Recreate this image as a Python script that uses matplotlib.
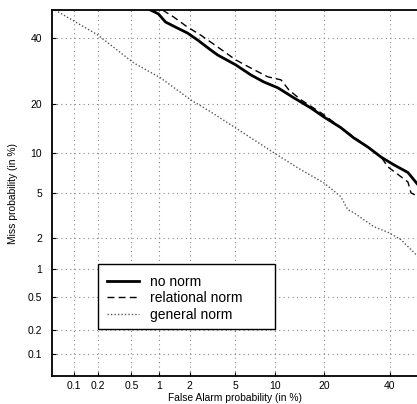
import numpy as np
import matplotlib
matplotlib.use("Agg")
import matplotlib.pyplot as plt
from matplotlib.patches import Rectangle
from statistics import NormalDist

# DET curves, values in percent (false alarm, miss)
no_norm_fa = [0.81, 0.98, 1.16, 1.46, 1.91, 2.37, 3.11, 3.58, 5.06, 6.63, 8.27, 10.4,
              13.2, 16.8, 19.9, 24.4, 28.2, 32.6, 37.0, 41.4, 46.4, 50.0]
no_norm_miss = [50.0, 48.6, 45.7, 43.9, 41.8, 39.4, 36.0, 34.3, 31.1, 28.0, 25.9, 24.2,
                21.5, 18.9, 16.8, 14.5, 12.5, 10.9, 9.3, 8.2, 7.2, 5.8]

rel_norm_fa = [1.08, 1.40, 1.91, 2.53, 3.58, 5.06, 6.63, 8.84, 10.9, 12.3, 14.6, 19.9,
               24.4, 32.6, 37.0, 39.4, 43.9, 46.4, 47.5, 50.0]
rel_norm_miss = [50.0, 47.5, 43.9, 41.1, 37.0, 32.7, 30.1, 27.4, 26.5, 23.6, 21.0, 17.3,
                 14.5, 10.9, 9.3, 7.9, 6.7, 6.1, 5.0, 4.7]

gen_norm_fa = [0.055, 0.20, 0.53, 1.03, 2.04, 3.11, 4.88, 9.7, 14.6, 19.9, 24.4, 26.4,
               28.2, 34.6, 39.7, 43.9, 50.0]
gen_norm_miss = [50.0, 41.1, 31.7, 27.1, 21.0, 18.0, 14.7, 10.0, 7.55, 6.0, 4.66, 3.63,
                 3.42, 2.57, 2.26, 1.95, 1.33]

tick_vals = [0.1, 0.2, 0.5, 1, 2, 5, 10, 20, 40]
tick_labels = ["0.1", "0.2", "0.5", "1", "2", "5", "10", "20", "40"]

# normal deviate (probit) scale for DET plots
_nd = NormalDist()
_ppf = np.vectorize(lambda v: _nd.inv_cdf(v / 100.0), otypes=[float])
_cdf = np.vectorize(lambda v: _nd.cdf(v) * 100.0, otypes=[float])


def _fwd(p):
    p = np.clip(np.asarray(p, dtype=float), 1e-7, 100 - 1e-7)
    return _ppf(p)


def _inv(z):
    return _cdf(np.asarray(z, dtype=float))


plt.rcParams['font.family'] = ['Liberation Sans', 'DejaVu Sans']

W, H = 417, 404
fig = plt.figure(figsize=(W / 100, H / 100), dpi=100)
ax = fig.add_axes([52 / W, 28 / H, 366 / W, 366 / H])

ax.set_xscale('function', functions=(_fwd, _inv))
ax.set_yscale('function', functions=(_fwd, _inv))

ax.plot(no_norm_fa, no_norm_miss, color='black', lw=2.0, label='no norm')
ax.plot(rel_norm_fa, rel_norm_miss, color='black', lw=1.0, ls=(0, (5, 3)),
        label='relational norm')
ax.plot(gen_norm_fa, gen_norm_miss, color='#555555', lw=1.0, ls=(0, (1, 1.5)),
        label='general norm')

ax.set_xlim(0.05, 50)
ax.set_ylim(0.05, 50)
ax.set_xticks(tick_vals)
ax.set_xticklabels(tick_labels)
ax.set_yticks(tick_vals)
ax.set_yticklabels(tick_labels)
ax.minorticks_off()

ax.grid(True, color='#888888', ls=(0, (1, 3)), lw=0.8)
ax.tick_params(direction='in', length=3, width=0.8, labelsize=7.5)
ax.tick_params(axis='x', pad=3.5)
ax.tick_params(axis='y', pad=7)
for s in ax.spines.values():
    s.set_linewidth(1.3)

ax.set_xlabel('False Alarm probability (in %)', fontsize=7.4, labelpad=1.5)
ax.set_ylabel('Miss probability (in %)', fontsize=7.4, labelpad=7)

# legend box (wider than its content, as in the original)
box = Rectangle((98 / W, 75 / H), 177 / W, 65 / H, transform=fig.transFigure,
                facecolor='white', edgecolor='black', lw=1.0, zorder=3,
                clip_on=False)
ax.add_patch(box)
leg = ax.legend(loc='lower left', bbox_to_anchor=(100 / W, 75 / H),
                bbox_transform=fig.transFigure,
                fontsize=10, frameon=False, handlelength=2.3,
                borderpad=0.5, labelspacing=0.2, handletextpad=0.8,
                borderaxespad=0)
leg.set_zorder(4)

fig.savefig('out.png', dpi=100)
